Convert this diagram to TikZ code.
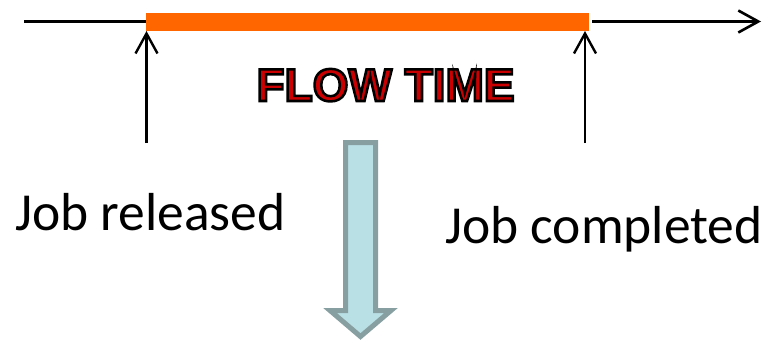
\documentclass[tikz,border=0pt]{standalone}
\usepackage{fontspec}
\setmainfont{Carlito}
\newfontfamily\flowfont{Liberation Sans Bold}[FakeBold=5.5]
\usetikzlibrary{arrows.meta}
\definecolor{barorange}{HTML}{FF6600}
\definecolor{arrowfill}{HTML}{B9E0E5}
\definecolor{arrowdraw}{HTML}{879FA1}
\newcommand{\outlinedred}[1]{\special{pdf:bcolor [0.8 0 0] [0 0 0]}#1\special{pdf:ecolor}}
\tikzset{
  timeline/.style={line width=2.6pt, -{Straight Barb[length=20pt,width=22pt,line width=2.6pt]}},
  marker/.style={line width=2.4pt, -{Straight Barb[length=20pt,width=22pt,line width=2.4pt]}},
  jobtext/.style={inner sep=0pt, anchor=base west, font=\fontsize{53.5}{60}\selectfont},
  blockarrow/.style={draw=arrowdraw, fill=arrowfill, line width=5pt, line join=miter},
}
\begin{document}
\begin{tikzpicture}[x=1pt,y=-1pt]
\useasboundingbox (0,0) rectangle (769,343);
% timeline
\coordinate (lineStart) at (24,21.5);
\coordinate (lineEnd) at (761,21.5);
\draw[line width=2.6pt] (lineStart) -- (146,21.5);
\draw[timeline] (592,21.5) -- (lineEnd);
% orange bar
\fill[barorange] (146,13) rectangle (589,30.5) node[coordinate] (barEnd) {};
% markers
\coordinate (relBot) at (146.5,143);
\coordinate (relTop) at (146.5,31);
\coordinate (compBot) at (585,143);
\coordinate (compTop) at (585,31);
\draw[marker] (relBot) -- (relTop);
\draw[marker] (compBot) -- (compTop);
% flow time label
\node[inner sep=0pt, anchor=base] (flow) at (385.5,101) {\fontsize{46}{50}\flowfont\outlinedred{FLOW TIME}};
% job labels
\node[jobtext] (released) at (15,230) {Job released};
\node[jobtext] (completed) at (445,243) {Job completed};
% block arrow
\draw[blockarrow] (345.5,142.5) -- (375.5,142.5) -- (375.5,310.5) -- (391,310.5) -- (360.5,336.5) -- (330,310.5) -- (345.5,310.5) -- cycle;
\end{tikzpicture}
\end{document}
